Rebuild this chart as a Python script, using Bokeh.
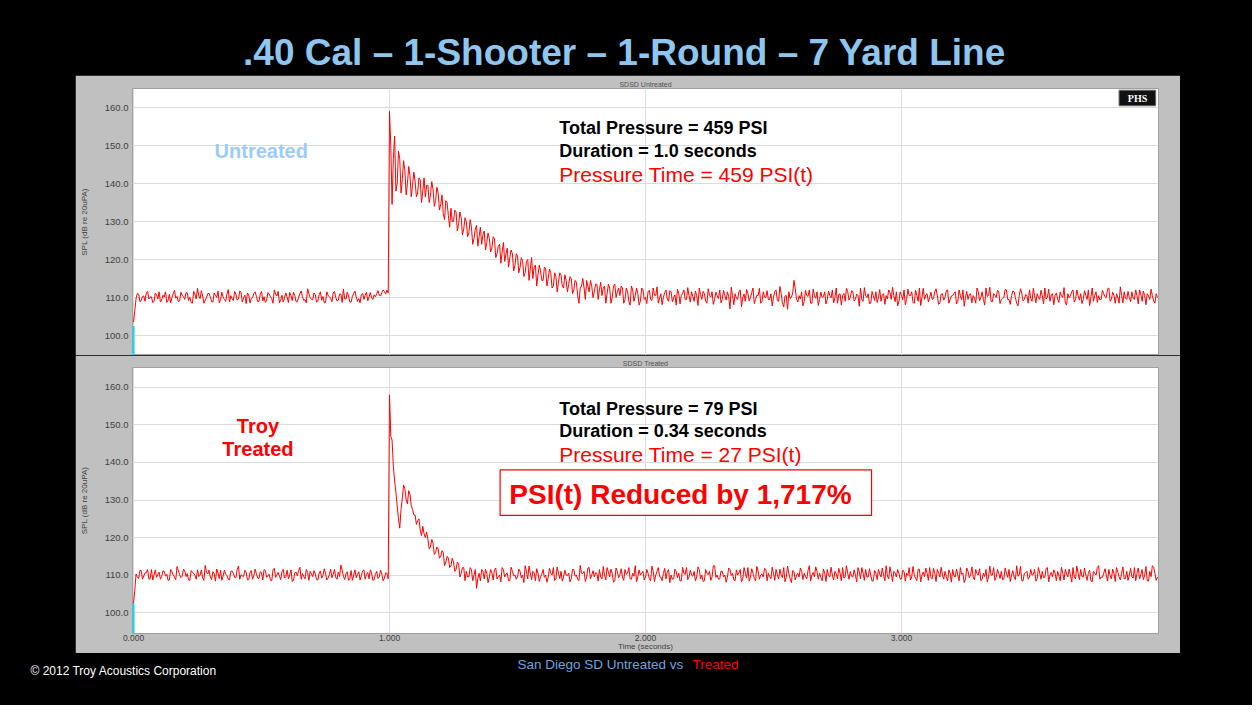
from bokeh.plotting import figure
from bokeh.models import (Range1d, Label, BoxAnnotation, FixedTicker,
                          PrintfTickFormatter, Grid)
from bokeh.layouts import column, row
from bokeh.embed import file_html
from bokeh.resources import INLINE

# ---------------- data ----------------
TITLE = ".40 Cal \u2013 1-Shooter \u2013 1-Round \u2013 7 Yard Line"
sample_step_s = 0.005   # samples every 5 ms, 0.000 .. 4.000 s

# SPL read at t = 0.00, 0.01, ... 4.00 s
untreated_spl_a = [
    103.5, 109.8, 110.9, 109.2, 110.4, 111.3, 109.6, 110.2, 108.9, 110.7,
    111.5, 109.4, 110.1, 108.7, 110.8, 109.9, 111.9, 110.3, 109.1, 110.6,
    109.5, 111.2, 110.0, 108.5, 110.9, 112.4, 109.7, 110.4, 109.3, 111.0,
    110.2, 108.8, 110.6, 111.7, 109.4, 110.1, 109.0, 112.1, 110.5, 109.2,
    110.8, 109.6, 111.4, 110.0, 108.4, 110.7, 109.8, 111.1, 110.3, 109.0,
    111.6, 110.2, 109.3, 110.9, 109.7, 112.0, 110.4, 108.6, 110.6, 109.9,
    110.1, 111.3, 109.2, 110.5, 108.9, 111.0, 110.2, 109.5, 112.3, 110.0,
    109.4, 110.8, 109.1, 111.5, 110.3, 108.7, 110.6, 109.8, 111.2, 110.0,
    109.3, 110.9, 112.2, 109.6, 110.4, 108.8, 111.1, 110.2, 109.7, 110.8,
    109.5, 111.4, 110.1, 109.9, 110.7, 111.0, 110.6, 111.3, 111.6, 111.9,
    159.0, 134.5, 152.5, 140.0, 146.5, 141.0, 143.5, 140.0, 142.0, 139.5,
    140.5, 137.5, 141.0, 138.0, 136.5, 139.5, 137.0, 138.5, 135.5, 137.5,
    134.5, 132.0, 135.5, 131.5, 133.5, 130.0, 132.5, 129.5, 131.0, 128.0,
    130.0, 127.0, 128.5, 125.5, 129.0, 126.0, 124.0, 127.5, 124.5, 125.5,
    123.0, 125.5, 121.5, 124.0, 122.0, 119.5, 123.0, 120.5, 121.5, 118.5,
    121.0, 118.0, 119.5, 116.5, 120.0, 117.5, 115.0, 118.5, 116.0, 117.0,
    114.5, 117.5, 115.0, 116.5, 113.0, 115.5, 114.0, 116.0, 112.5, 114.5,
    113.5, 115.0, 112.0, 114.0, 108.5, 113.0, 112.5, 114.5, 111.5, 113.0,
    111.5, 113.5, 112.0, 110.5, 113.0, 111.0, 112.5, 110.0, 113.5, 111.5,
    110.5, 112.5, 109.5, 111.5, 108.0, 112.0, 110.5, 111.0, 109.0, 112.0,
    110.0, 111.5, 109.5, 112.5, 110.5, 108.5, 111.0, 110.0, 112.0, 109.0,
    111.5, 110.0, 108.0, 111.0, 110.5, 112.0, 109.5, 110.5, 111.5, 109.0,
    110.5, 112.5, 109.5, 111.0, 108.5, 110.5, 111.5, 109.5, 110.5, 112.0,
    109.5, 110.5, 111.5, 107.0, 110.5, 111.0, 109.5, 112.0, 110.0, 109.0,
    111.0, 110.0, 112.5, 109.5, 110.5, 108.5, 111.5, 110.0, 109.5, 111.0,
    110.0, 112.0, 109.0, 111.0, 107.5, 110.5, 111.5, 110.0, 114.5, 109.5,
    110.5, 111.5, 109.0, 110.5, 112.0, 108.5, 110.5, 111.5, 109.5, 110.0,
    111.5, 109.5, 110.5, 112.0, 110.0, 108.5, 111.0, 110.5, 109.0, 111.5,
    110.0, 111.5, 109.5, 110.5, 112.5, 109.0, 110.5, 111.0, 108.5, 110.5,
    111.5, 110.0, 109.0, 111.0, 110.5, 112.0, 109.5, 110.5, 111.5, 109.0,
    110.5, 112.0, 109.5, 110.5, 111.5, 108.5, 110.5, 112.5, 110.0, 109.5,
    111.0, 110.0, 109.5, 111.5, 110.5, 108.5, 111.0, 110.0, 112.0, 109.5,
    110.5, 111.5, 109.0, 110.5, 112.0, 110.0, 109.5, 111.0, 110.5, 108.5,
    111.5, 110.0, 109.5, 112.5, 110.5, 109.0, 111.0, 110.0, 111.5, 109.5,
    110.0, 112.0, 109.5, 110.5, 111.5, 108.5, 110.5, 111.0, 109.5, 110.5,
    112.0, 109.0, 110.5, 111.0, 109.5, 110.5, 112.5, 110.0, 109.0, 111.0,
    110.5, 109.5, 111.5, 110.0, 108.5, 111.0, 110.5, 112.0, 109.5, 110.5,
    111.0, 109.5, 110.5, 112.0, 110.0, 109.0, 111.5, 110.5, 109.5, 111.0,
    110.0, 112.5, 109.5, 110.5, 111.0, 108.5, 110.5, 111.5, 109.5, 110.0,
    111.5, 109.5, 110.5, 112.0, 109.0, 110.5, 111.0, 109.5, 110.5, 108.5,
    110.0,
]
# SPL read at t = 0.005, 0.015, ... 3.995 s
untreated_spl_b = [
    106.5, 111.1, 108.9, 110.3, 109.0, 111.6, 110.1, 108.7, 111.2, 109.6,
    108.8, 110.6, 111.5, 109.3, 108.6, 111.0, 109.8, 108.9, 111.4, 110.2,
    111.3, 109.2, 108.7, 111.6, 109.6, 110.4, 111.8, 108.5, 109.9, 111.1,
    108.9, 111.2, 110.0, 108.6, 111.4, 109.5, 110.9, 108.8, 109.7, 111.6,
    109.3, 111.7, 108.8, 110.6, 111.2, 108.6, 109.9, 111.5, 108.9, 110.8,
    109.1, 108.7, 111.3, 110.2, 108.5, 110.9, 111.6, 109.4, 108.8, 111.2,
    108.7, 110.5, 111.4, 108.9, 110.1, 111.7, 109.2, 108.6, 111.0, 109.5,
    111.2, 108.8, 110.7, 109.3, 108.6, 111.5, 110.2, 108.9, 111.6, 109.1,
    110.9, 108.7, 109.6, 111.4, 108.8, 110.3, 111.7, 109.0, 108.6, 111.1,
    110.6, 109.1, 111.3, 109.5, 110.2, 111.8, 110.4, 112.0, 110.9, 111.2,
    150.0, 146.5, 138.0, 148.5, 137.5, 146.0, 137.0, 144.5, 136.5, 143.0,
    136.5, 141.5, 135.0, 141.5, 139.5, 135.0, 140.5, 134.0, 139.0, 133.0,
    137.0, 130.5, 135.0, 128.5, 130.0, 133.0, 127.5, 132.5, 126.5, 131.0,
    126.0, 130.5, 124.0, 128.0, 123.5, 128.5, 126.5, 122.5, 127.0, 122.0,
    126.0, 120.5, 123.5, 119.0, 124.5, 121.5, 118.0, 122.5, 117.0, 121.5,
    116.5, 120.5, 115.5, 119.5, 114.5, 120.5, 118.0, 113.0, 118.5, 114.5,
    118.0, 113.0, 117.5, 112.5, 116.5, 111.5, 116.5, 113.0, 116.0, 111.5,
    115.5, 111.0, 114.5, 110.5, 112.5, 115.0, 109.5, 113.0, 114.5, 110.0,
    113.5, 109.5, 114.0, 112.5, 108.5, 113.5, 108.5, 113.0, 110.0, 112.5,
    113.0, 108.5, 112.5, 109.0, 113.0, 109.0, 112.5, 108.0, 112.5, 109.5,
    108.4, 111.9, 109.2, 110.6, 112.8, 109.9, 108.1, 111.3, 109.6, 111.8,
    108.9, 110.7, 112.2, 108.3, 111.1, 109.4, 112.6, 108.8, 110.3, 111.7,
    107.9, 110.8, 111.6, 109.0, 112.3, 110.1, 108.2, 111.4, 109.7, 108.6,
    111.9, 109.3, 110.2, 112.7, 108.1, 109.8, 111.5, 107.6, 110.9, 112.1,
    109.1, 111.3, 108.4, 110.6, 112.4, 108.9, 110.1, 111.8, 109.5, 107.8,
    111.6, 109.2, 112.9, 108.6, 110.4, 106.9, 109.7, 111.2, 112.3, 108.8,
    109.6, 107.8, 111.9, 110.3, 108.5, 112.2, 109.8, 107.9, 111.4, 110.2,
    108.3, 111.7, 109.9, 108.6, 112.5, 110.8, 108.0, 111.1, 112.4, 109.3,
    111.8, 109.1, 110.9, 107.7, 109.5, 112.6, 110.0, 108.4, 111.6, 109.2,
    108.7, 112.1, 110.6, 108.2, 109.6, 111.3, 112.7, 108.9, 107.8, 111.5,
    109.4, 108.1, 112.2, 110.5, 108.7, 111.9, 109.0, 107.9, 112.4, 110.7,
    108.8, 111.4, 109.7, 112.3, 108.2, 110.9, 109.3, 111.8, 108.5, 110.4,
    111.1, 108.3, 112.0, 109.4, 107.7, 111.6, 110.8, 108.6, 109.9, 112.5,
    109.2, 111.5, 108.0, 110.3, 112.7, 108.9, 110.6, 111.9, 108.4, 109.7,
    112.1, 109.5, 108.2, 111.7, 110.0, 107.8, 112.3, 109.1, 110.8, 108.5,
    109.8, 112.4, 108.6, 110.1, 111.9, 108.3, 109.6, 112.2, 110.7, 108.1,
    111.2, 108.7, 110.4, 112.6, 108.0, 109.9, 111.5, 108.8, 112.0, 109.3,
    108.4, 111.8, 109.5, 107.9, 112.5, 110.6, 108.7, 109.4, 111.9, 110.2,
    112.3, 109.0, 111.4, 108.5, 110.1, 112.8, 108.6, 109.8, 111.6, 108.9,
    109.7, 112.0, 108.3, 110.9, 111.7, 108.1, 110.4, 112.2, 109.1, 111.0,
]

treated_spl_a = [
    102.5, 110.3, 109.1, 111.2, 109.8, 110.6, 108.9, 111.5, 110.0, 109.4,
    110.8, 109.6, 111.0, 110.2, 108.7, 110.9, 109.5, 112.3, 110.1, 109.7,
    111.1, 110.4, 108.6, 110.7, 109.9, 111.4, 110.0, 109.2, 112.6, 110.3,
    109.5, 110.9, 108.4, 110.6, 111.3, 109.8, 110.2, 108.9, 111.0, 110.5,
    109.3, 112.4, 110.1, 109.6, 110.8, 108.8, 111.2, 109.9, 110.4, 109.1,
    110.7, 111.5, 109.4, 110.2, 108.5, 111.8, 110.0, 109.7, 110.9, 109.2,
    111.3, 110.1, 108.3, 110.6, 109.8, 112.1, 110.4, 109.0, 110.7, 111.0,
    109.6, 110.3, 108.7, 111.1, 109.9, 110.5, 109.2, 111.6, 110.2, 109.4,
    110.8, 112.7, 109.7, 110.4, 108.6, 111.2, 110.0, 109.3, 110.9, 109.8,
    111.4, 110.2, 109.0, 110.6, 108.8, 111.0, 109.5, 110.3, 109.2, 110.5,
    158.0, 146.0, 135.0, 128.5, 122.5, 130.5, 133.0, 129.0, 131.5, 127.5,
    126.0, 124.5, 122.0, 123.0, 120.0, 119.5, 117.5, 118.5, 116.0, 117.0,
    115.0, 116.0, 113.5, 114.5, 112.5, 113.5, 111.5, 113.0, 110.5, 112.0,
    111.0, 109.5, 111.5, 110.0, 106.5, 110.5, 111.5, 109.0, 110.5, 109.5,
    110.5, 111.5, 109.0, 110.0, 112.0, 109.5, 110.5, 108.5, 111.0, 110.0,
    109.5, 111.0, 110.0, 112.5, 109.0, 110.5, 111.0, 108.5, 110.5, 109.5,
    111.5, 110.0, 109.5, 110.5, 112.0, 109.0, 110.5, 111.0, 109.5, 110.0,
    110.5, 109.0, 111.5, 110.0, 108.5, 110.5, 111.0, 109.5, 112.0, 110.0,
    109.5, 110.5, 111.5, 109.0, 110.0, 112.0, 109.5, 110.5, 108.5, 111.0,
    110.0, 109.5, 111.5, 110.5, 109.0, 110.5, 112.5, 109.5, 110.0, 111.0,
    109.5, 110.5, 108.5, 111.0, 110.0, 112.0, 109.5, 110.5, 109.0, 111.5,
    110.0, 109.0, 111.0, 110.5, 108.5, 110.5, 112.0, 109.5, 110.0, 111.0,
    109.5, 111.5, 110.0, 108.5, 110.5, 111.0, 109.5, 112.5, 110.0, 109.0,
    111.0, 110.0, 109.5, 111.5, 110.5, 108.5, 110.0, 111.5, 109.0, 110.5,
    112.0, 109.5, 110.5, 108.5, 111.0, 110.0, 109.5, 111.5, 110.5, 109.0,
    110.5, 111.5, 109.0, 110.0, 112.0, 109.5, 110.5, 108.0, 111.0, 110.0,
    109.5, 111.0, 110.5, 109.0, 112.5, 110.0, 109.5, 111.0, 110.5, 108.5,
    110.5, 111.5, 109.5, 110.0, 111.0, 109.0, 110.5, 112.0, 109.5, 110.5,
    111.0, 109.5, 110.0, 112.0, 109.0, 110.5, 111.5, 109.5, 110.0, 108.5,
    110.5, 111.5, 109.5, 110.0, 112.5, 109.0, 110.5, 111.0, 109.5, 110.5,
    109.0, 111.0, 110.5, 112.0, 109.5, 110.0, 108.5, 111.5, 110.0, 109.5,
    110.5, 112.0, 109.0, 110.5, 111.5, 109.5, 110.0, 111.0, 108.5, 110.5,
    111.5, 109.5, 110.0, 112.0, 110.5, 109.0, 111.0, 110.0, 109.5, 111.5,
    110.0, 108.5, 110.5, 111.5, 109.5, 110.0, 112.0, 109.5, 110.5, 111.0,
    109.0, 110.5, 111.5, 110.0, 109.5, 112.5, 110.0, 108.5, 110.5, 111.0,
    109.5, 110.0, 111.5, 109.0, 110.5, 111.0, 109.5, 112.0, 110.0, 109.5,
    110.5, 111.0, 108.5, 110.5, 111.5, 109.5, 110.0, 112.0, 109.0, 110.5,
    111.5, 109.5, 110.0, 110.5, 108.5, 111.0, 110.0, 112.5, 109.5, 110.5,
    110.0, 111.5, 109.0, 110.5, 112.0, 109.5, 110.5, 109.0, 111.0, 110.0,
    109.5, 112.0, 110.5, 109.0, 111.5, 110.0, 108.5, 111.0, 112.5, 110.5,
    109.5,
]
treated_spl_b = [
    106.0, 109.4, 111.3, 108.9, 110.6, 111.5, 109.0, 108.7, 111.4, 110.2,
    108.9, 111.1, 109.7, 108.6, 111.5, 110.0, 108.8, 111.2, 109.3, 111.6,
    109.6, 108.7, 111.2, 110.5, 108.9, 109.6, 111.4, 108.6, 110.8, 111.3,
    108.8, 110.4, 111.6, 109.1, 108.6, 111.3, 109.9, 108.7, 111.1, 109.4,
    111.5, 108.9, 109.8, 111.3, 108.7, 110.6, 108.9, 111.6, 109.2, 110.9,
    108.7, 111.2, 109.9, 108.6, 111.4, 109.4, 110.7, 108.8, 111.5, 109.6,
    109.0, 111.4, 108.7, 110.8, 111.2, 108.9, 109.6, 111.5, 108.6, 110.3,
    111.2, 108.8, 110.5, 109.2, 111.7, 108.7, 110.1, 109.3, 111.5, 108.9,
    109.6, 111.3, 108.8, 110.9, 109.1, 108.6, 111.4, 110.2, 108.7, 111.1,
    108.9, 110.7, 111.4, 108.6, 110.2, 109.1, 111.3, 108.5, 110.6, 109.0,
    147.0, 139.0, 132.0, 125.0, 127.5, 134.0, 130.0, 132.5, 128.5, 126.0,
    123.5, 125.0, 120.5, 121.0, 121.5, 117.0, 119.5, 115.5, 117.5, 114.5,
    116.5, 112.5, 115.0, 112.0, 114.5, 111.0, 113.5, 109.5, 112.0, 108.5,
    109.5, 112.0, 108.5, 111.5, 109.0, 108.5, 111.0, 111.5, 108.0, 111.5,
    108.7, 111.9, 109.6, 108.2, 111.4, 110.3, 108.5, 112.1, 109.8, 108.9,
    111.6, 109.2, 108.0, 110.9, 112.4, 108.8, 110.6, 111.7, 108.3, 110.2,
    109.4, 108.1, 111.8, 110.0, 108.6, 112.2, 109.1, 108.4, 111.3, 109.9,
    108.2, 111.5, 109.7, 108.9, 112.6, 110.4, 108.3, 111.9, 109.0, 111.2,
    110.6, 108.4, 109.5, 112.3, 108.7, 110.8, 111.6, 108.1, 111.9, 109.3,
    111.7, 108.6, 110.2, 112.0, 108.9, 109.7, 108.2, 111.4, 110.5, 108.7,
    111.5, 109.1, 112.4, 108.3, 111.0, 109.6, 108.5, 111.8, 110.9, 108.0,
    108.9, 111.6, 109.3, 108.4, 112.1, 110.2, 108.8, 111.3, 109.7, 108.5,
    112.2, 109.0, 108.3, 111.5, 110.1, 108.6, 112.5, 109.4, 108.9, 111.1,
    109.5, 108.1, 111.9, 109.9, 108.7, 111.4, 110.6, 108.2, 112.0, 109.2,
    108.4, 111.7, 109.1, 112.3, 108.9, 110.3, 111.8, 108.5, 109.6, 112.1,
    108.6, 110.1, 111.6, 109.3, 108.2, 112.4, 109.0, 111.2, 108.7, 110.5,
    111.9, 108.8, 109.6, 111.3, 108.4, 110.7, 112.2, 108.9, 109.4, 111.6,
    108.3, 109.9, 112.1, 108.7, 110.4, 111.8, 108.5, 109.2, 112.5, 108.9,
    109.7, 111.4, 108.2, 110.9, 112.0, 108.6, 109.5, 111.7, 108.4, 111.2,
    108.8, 110.3, 111.9, 108.5, 109.7, 112.2, 108.3, 110.6, 111.5, 108.9,
    111.3, 108.4, 109.9, 108.7, 112.3, 109.2, 111.6, 108.2, 110.8, 111.9,
    108.6, 109.4, 111.8, 108.3, 110.5, 112.1, 108.9, 109.6, 111.4, 108.1,
    109.8, 111.6, 108.5, 110.2, 108.0, 111.9, 109.3, 112.2, 108.7, 110.4,
    111.7, 108.9, 109.6, 108.2, 112.4, 110.0, 108.6, 111.5, 109.1, 108.8,
    111.9, 109.4, 108.3, 111.2, 108.8, 109.7, 112.3, 108.5, 110.6, 108.9,
    111.5, 110.2, 108.4, 112.0, 108.9, 109.3, 111.8, 108.2, 110.7, 111.4,
    108.5, 109.8, 112.1, 108.7, 110.3, 111.6, 108.1, 109.5, 112.4, 108.8,
    109.6, 111.9, 108.6, 111.3, 108.2, 110.5, 112.0, 108.9, 109.4, 111.7,
    108.4, 109.9, 111.6, 108.3, 110.8, 108.7, 112.2, 109.1, 108.6, 111.8,
    109.2, 108.5, 111.9, 110.1, 108.8, 112.3, 108.4, 109.6, 112.1, 108.6,
]

# cyan start-of-record marker at t = 0
start_marker_t = [0.0, 0.0]
start_marker_spl = [94.0, 102.5]

x_ticks = [0, 1, 2, 3]
y_ticks = [100, 110, 120, 130, 140, 150, 160]

untreated_notes = ["Total Pressure = 459 PSI", "Duration = 1.0 seconds",
                   "Pressure Time = 459 PSI(t)"]
treated_notes = ["Total Pressure = 79 PSI", "Duration = 0.34 seconds",
                 "Pressure Time = 27 PSI(t)"]
reduction_text = "PSI(t) Reduced by 1,717%"

# ---------------- styling ----------------
FONT = "Liberation Sans"
PANEL = "#c0c0c0"
W_TOTAL, H_TOTAL = 1252, 705
TOP_H, PANEL_W, PANEL_H = 75, 1105, 578
LEFT_W = 75


def merge(a, b):
    out = []
    for i, v in enumerate(a):
        out.append(v)
        if i < len(b):
            out.append(b[i])
    return out


def blank(w, h):
    p = figure(width=w, height=h, x_range=Range1d(0, w), y_range=Range1d(h, 0),
               toolbar_location=None, output_backend="svg",
               x_axis_location=None, y_axis_location=None,
               min_border_left=0, min_border_right=0,
               min_border_top=0, min_border_bottom=0)
    p.grid.visible = False
    p.outline_line_color = None
    p.background_fill_color = "black"
    p.border_fill_color = "black"
    return p


def signal_plot(spl, height, top_b, bottom_b, y_lo, y_hi, title, show_x):
    p = figure(width=PANEL_W, height=height,
               x_range=Range1d(-0.004, 4.004), y_range=Range1d(y_lo, y_hi),
               toolbar_location=None, output_backend="svg", title=title,
               x_axis_location="below" if show_x else None,
               min_border_left=57, min_border_right=22,
               min_border_top=top_b, min_border_bottom=bottom_b)
    p.grid.visible = False
    p.background_fill_color = "white"
    p.border_fill_color = PANEL
    p.outline_line_color = "#a0a0a0"
    p.title.align = "center"
    p.title.text_font = FONT
    p.title.text_font_size = "7px"
    p.title.text_font_style = "normal"
    p.title.text_color = "#505050"
    p.title.standoff = 2
    p.title.offset = 0

    for dim, ticks in ((0, x_ticks), (1, y_ticks)):
        p.add_layout(Grid(dimension=dim, ticker=FixedTicker(ticks=ticks),
                          grid_line_color="#dcdcdc", grid_line_width=1), "center")

    ya = p.yaxis[0]
    ya.ticker = FixedTicker(ticks=y_ticks)
    ya.formatter = PrintfTickFormatter(format="%.1f")
    ya.axis_label = "SPL (dB re 20uPA)"
    ya.axis_label_text_font = FONT
    ya.axis_label_text_font_size = "8px"
    ya.axis_label_text_font_style = "normal"
    ya.axis_label_text_color = "#404040"
    ya.axis_label_standoff = 13
    ya.major_label_text_font = FONT
    ya.major_label_text_font_size = "9.5px"
    ya.major_label_text_color = "#404040"
    ya.major_label_standoff = 4
    ya.axis_line_color = None
    ya.major_tick_out = 0
    ya.major_tick_in = 0
    ya.minor_tick_out = 0
    ya.minor_tick_in = 0

    if show_x:
        xa = p.xaxis[0]
        xa.ticker = FixedTicker(ticks=x_ticks)
        xa.formatter = PrintfTickFormatter(format="%.3f")
        xa.axis_label = "Time (seconds)"
        xa.axis_label_text_font = FONT
        xa.axis_label_text_font_size = "8px"
        xa.axis_label_text_font_style = "normal"
        xa.axis_label_text_color = "#404040"
        xa.axis_label_standoff = -2
        xa.major_label_text_font = FONT
        xa.major_label_text_font_size = "8.5px"
        xa.major_label_text_color = "#404040"
        xa.major_label_standoff = 1
        xa.axis_line_color = None
        xa.major_tick_out = 0
        xa.major_tick_in = 0
        xa.minor_tick_out = 0
        xa.minor_tick_in = 0

    t = [i * sample_step_s for i in range(len(spl))]
    p.line(t, spl, line_color="#ff0000", line_width=1)
    p.line(start_marker_t, start_marker_spl, line_color="#00e0f0", line_width=2)
    return p


def notes(p, lines, ys):
    styles = [("black", "bold", "18px"), ("black", "bold", "18px"),
              ("#ff0000", "normal", "21px")]
    for txt, y, (c, fs, sz) in zip(lines, ys, styles):
        p.add_layout(Label(x=1.663, y=y, text=txt, text_align="left",
                           text_baseline="middle", text_font=FONT,
                           text_font_style=fs, text_font_size=sz,
                           text_color=c))


# ---------------- top plot (untreated) ----------------
p_top = signal_plot(merge(untreated_spl_a, untreated_spl_b), 280, 13, 0,
                    94.74, 165.0, "SDSD Untreated", False)
p_top.add_layout(Label(x=0.499, y=148.5, text="Untreated", text_align="center",
                       text_baseline="middle", text_font=FONT,
                       text_font_style="bold", text_font_size="20px",
                       text_color="#9ccbf8"))
notes(p_top, untreated_notes, [154.7, 148.6, 142.45])
p_top.add_layout(BoxAnnotation(left=3.850, right=3.993, bottom=160.45, top=164.55,
                               fill_color="#111111", fill_alpha=1.0,
                               line_color="#666666", line_alpha=1.0,
                               line_width=1))
p_top.add_layout(Label(x=3.922, y=162.5, text="PHS", text_align="center",
                       text_baseline="middle", text_font="Liberation Serif",
                       text_font_style="bold", text_font_size="10px",
                       text_color="white"))

# ---------------- bottom plot (treated) ----------------
p_bot = signal_plot(merge(treated_spl_a, treated_spl_b), 298, 12, 18,
                    94.45, 165.29, "SDSD Treated", True)
for txt, y in (("Troy", 149.7), ("Treated", 143.5)):
    p_bot.add_layout(Label(x=0.486, y=y, text=txt, text_align="center",
                           text_baseline="middle", text_font=FONT,
                           text_font_style="bold", text_font_size="20px",
                           text_color="#ff0000"))
notes(p_bot, treated_notes, [154.26, 148.37, 142.1])
p_bot.add_layout(BoxAnnotation(left=1.432, right=2.883, bottom=125.9, top=138.0,
                               fill_color="white", fill_alpha=1.0,
                               line_color="#ff0000", line_alpha=1.0,
                               line_width=1.2))
p_bot.add_layout(Label(x=1.468, y=131.4, text=reduction_text, text_align="left",
                       text_baseline="middle", text_font=FONT,
                       text_font_style="bold", text_font_size="28px",
                       text_color="#ff0000"))

# ---------------- surrounding slide ----------------
head = blank(W_TOTAL, TOP_H)
head.add_layout(Label(x=624, y=52, text=TITLE, text_align="center",
                      text_baseline="middle", text_font=FONT,
                      text_font_style="bold", text_font_size="37px",
                      text_color="#8ec6f0"))

foot_h = H_TOTAL - TOP_H - PANEL_H
foot = blank(W_TOTAL, foot_h)
foot.add_layout(Label(x=30, y=17, text="\u00a9 2012 Troy Acoustics Corporation",
                      text_align="left", text_baseline="middle", text_font=FONT,
                      text_font_size="12px", text_color="white"))
foot.add_layout(Label(x=517, y=11, text="San Diego SD Untreated vs",
                      text_align="left", text_baseline="middle", text_font=FONT,
                      text_font_size="13.5px", text_color="#6aa6e0"))
foot.add_layout(Label(x=692, y=11, text="Treated",
                      text_align="left", text_baseline="middle", text_font=FONT,
                      text_font_size="13.5px", text_color="#ff0000"))

left = blank(LEFT_W, PANEL_H)
right = blank(W_TOTAL - LEFT_W - PANEL_W, PANEL_H)

BLACK_BG = {"background-color": "black"}
layout = column(head,
                row(left, column(p_top, p_bot, styles=BLACK_BG), right,
                    styles=BLACK_BG),
                foot, styles=BLACK_BG)

open("out.html", "w").write(file_html(layout, INLINE, title="chart"))
